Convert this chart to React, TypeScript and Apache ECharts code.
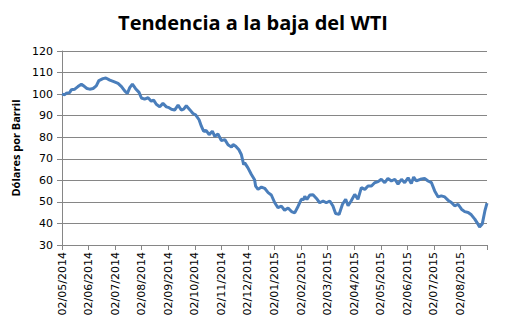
import React, { useEffect, useRef } from "react";
import * as echarts from "echarts";

const monthLabels = [
  "02/05/2014", "02/06/2014", "02/07/2014", "02/08/2014", "02/09/2014", "02/10/2014",
  "02/11/2014", "02/12/2014", "02/01/2015", "02/02/2015", "02/03/2015", "02/04/2015",
  "02/05/2015", "02/06/2015", "02/07/2015", "02/08/2015",
];

// time position in months since 02/05/2014
const monthPos = [
  0, 0.1, 0.16, 0.29, 0.35, 0.48, 0.6, 0.73, 0.85, 0.94, 1.04, 1.17, 1.29, 1.39, 1.54, 1.65,
  1.8, 1.95, 2.11, 2.24, 2.36, 2.46, 2.55, 2.65, 2.77, 2.9, 2.99, 3.11, 3.24, 3.36, 3.45, 3.55,
  3.68, 3.8, 3.93, 4.03, 4.12, 4.24, 4.37, 4.49, 4.58, 4.68, 4.81, 4.93, 5.03, 5.16, 5.25, 5.33,
  5.43, 5.54, 5.66, 5.75, 5.87, 6.0, 6.13, 6.25, 6.38, 6.44, 6.54, 6.66, 6.75, 6.84, 6.88, 7.0,
  7.13, 7.25, 7.29, 7.38, 7.51, 7.63, 7.76, 7.88, 8.01, 8.13, 8.26, 8.38, 8.51, 8.64, 8.76, 8.89,
  9.01, 9.1, 9.14, 9.22, 9.33, 9.45, 9.58, 9.7, 9.83, 9.95, 10.08, 10.2, 10.3, 10.43, 10.56, 10.68,
  10.77, 10.89, 11.02, 11.14, 11.27, 11.4, 11.52, 11.65, 11.77, 11.9, 12.02, 12.15, 12.27, 12.4,
  12.53, 12.65, 12.78, 12.9, 13.03, 13.15, 13.24, 13.34, 13.49, 13.65, 13.78, 13.91, 14.03, 14.16,
  14.28, 14.41, 14.53, 14.66, 14.78, 14.91, 15.04, 15.16, 15.29, 15.41, 15.54, 15.66, 15.72,
  15.82, 15.92, 16.0,
];

const wtiPrice = [
  100, 99.7, 100.4, 100.7, 102, 102.3, 103.5, 104.6, 103.5, 102.6, 102.3, 102.6, 103.8, 106.3,
  107.2, 107.5, 106.5, 105.8, 105, 103.5, 101.5, 100.3, 103, 104.6, 102.5, 100.8, 98.2, 97.7,
  98.3, 96.7, 97.2, 95.3, 94.1, 95.7, 94.1, 93.7, 93, 92.6, 94.9, 92.6, 93, 94.6, 92.8, 91, 90.4,
  88.1, 85, 82.8, 83.1, 81.2, 82.8, 80.4, 81.5, 78.5, 78.9, 76.5, 75.4, 76.6, 75.8, 74.2, 72,
  67.3, 68.1, 65.8, 62.7, 60.3, 57.3, 55.8, 56.9, 56.3, 54.3, 53.2, 49.6, 47.3, 48, 46.1, 47.2,
  45.5, 44.9, 48, 51.2, 51.1, 52.6, 51.1, 53.2, 53.3, 51.6, 49.6, 50.4, 49.6, 50.4, 48.1, 44.6,
  44.2, 48.9, 51.2, 48.2, 50.5, 53.5, 51.2, 56.6, 55.8, 57.4, 57.4, 58.9, 59.4, 60.5, 58.9, 60.9,
  59.7, 60.5, 58.2, 60.5, 58.9, 61.2, 58.5, 61.5, 59.7, 60.5, 60.9, 59.7, 58.9, 55.1, 52.3, 52.8,
  52.3, 50.8, 49.7, 48.2, 48.9, 46.6, 45.5, 45.1, 44, 42, 39.7, 38.3, 39.7, 45.8, 49.4,
];

const yTicks = { min: 30, max: 120, step: 10 };

export default function App() {
  const ref = useRef<HTMLDivElement>(null);
  useEffect(() => {
    if (!ref.current) return;
    const chart = echarts.init(ref.current, null, { renderer: "svg" });
    const data = monthPos.map((m, i) => [m, wtiPrice[i]]);
    chart.setOption({
      animation: false,
      backgroundColor: "#ffffff",
      title: {
        text: "Tendencia a la baja del WTI",
        left: 248,
        top: 7,
        textAlign: "center",
        textStyle: {
          fontFamily: "Open Sans",
          fontWeight: "bold",
          fontSize: 20,
          color: "#000000",
        },
      },
      grid: { left: 62, right: 26, top: 51, bottom: 88, containLabel: false },
      xAxis: {
        type: "value",
        min: 0,
        max: 16,
        interval: 1,
        axisLine: { show: true, onZero: false, lineStyle: { color: "#868686", width: 1 } },
        axisTick: { show: true, length: 5, lineStyle: { color: "#868686" } },
        splitLine: { show: false },
        axisLabel: {
          rotate: 90,
          margin: 7,
          fontFamily: "DejaVu Sans",
          fontSize: 11,
          color: "#000000",
          showMaxLabel: true,
          formatter: (v: number) => monthLabels[Math.round(v)] ?? "",
        },
      },
      yAxis: {
        type: "value",
        min: yTicks.min,
        max: yTicks.max,
        interval: yTicks.step,
        name: "Dólares por Barril",
        nameLocation: "middle",
        nameGap: 38,
        nameTextStyle: {
          fontFamily: "Open Sans",
          fontWeight: "bold",
          fontSize: 11,
          color: "#000000",
        },
        axisLine: { show: true, lineStyle: { color: "#868686", width: 1 } },
        axisTick: { show: true, length: 5, lineStyle: { color: "#868686" } },
        splitLine: { show: true, lineStyle: { color: "#868686", width: 1 } },
        axisLabel: {
          margin: 9,
          fontFamily: "DejaVu Sans",
          fontSize: 11,
          color: "#000000",
        },
      },
      series: [
        {
          type: "line",
          data,
          showSymbol: false,
          symbol: "none",
          lineStyle: { color: "#4A7EBB", width: 3 },
          clip: false,
        },
      ],
    });
    return () => chart.dispose();
  }, []);
  return <div ref={ref} style={{ width: 513, height: 333, margin: -8 }} />;
}
